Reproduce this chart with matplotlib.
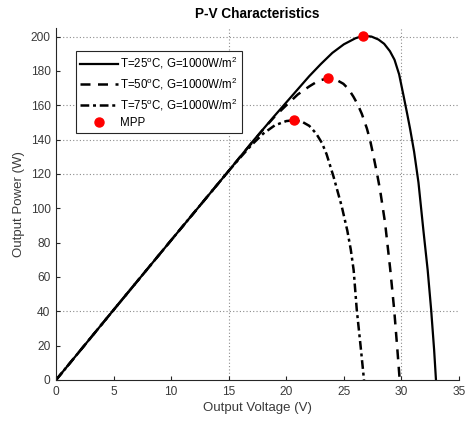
import matplotlib
matplotlib.use("Agg")
import matplotlib.pyplot as plt

plt.rcParams['font.family'] = ['Liberation Sans', 'DejaVu Sans']
plt.rcParams['mathtext.fontset'] = 'custom'
plt.rcParams['mathtext.rm'] = 'Liberation Sans'
plt.rcParams['mathtext.it'] = 'Liberation Sans'

# ---- data ----
v25 = [0, 5, 10, 15, 17, 19, 20.5, 22, 23, 24, 25, 26, 26.7, 27.4, 28, 28.5, 29,
       29.4, 29.8, 30.17, 30.5, 30.76, 31.1, 31.48, 31.91, 32.28, 32.58, 32.84, 33.0]
p25 = [0, 40.8, 81.4, 121.8, 138.3, 154, 165.5, 177, 184, 190.5, 195.5, 199, 200.5,
       200, 198.3, 195.8, 191.5, 186.5, 178, 166, 155, 146, 133, 115, 87, 64, 41, 17.5, 0]

v50 = [0, 5, 10, 15, 16, 17, 18, 19, 20, 21, 22, 22.8, 23.66, 24.3, 24.96, 25.4,
       25.83, 26.2, 26.56, 27.0, 27.3, 27.57, 27.9, 28.15, 28.58, 29.02, 29.37, 29.65, 29.85]
p50 = [0, 40.8, 81.4, 121.8, 130, 138, 146, 153.5, 160, 166.3, 171, 174.3, 175.8, 175,
       172.5, 169.5, 165, 160.5, 155, 146.5, 139, 130.5, 119.5, 110.5, 91.5, 65, 41, 17.5, 0]

v75 = [0, 5, 10, 15, 16, 17, 18, 19, 20, 20.7, 21.4, 22, 22.6, 23.1, 23.5, 24.1,
       24.82, 25.3, 25.6, 25.85, 26.12, 26.45, 26.75]
p75 = [0, 40.8, 81.4, 121.8, 129.5, 137, 143.5, 148.3, 150.8, 151.3, 150.3, 148, 143.5,
       138, 131.5, 118.5, 101, 87, 76, 64, 41, 20, 0]

mpp_v = [26.7, 23.66, 20.7]
mpp_p = [200.5, 175.8, 151.3]

labels = [r'T=25$^o$C, G=1000W/m$^2$',
          r'T=50$^o$C, G=1000W/m$^2$',
          r'T=75$^o$C, G=1000W/m$^2$',
          'MPP']
xticks = [0, 5, 10, 15, 20, 25, 30, 35]
yticks = [0, 20, 40, 60, 80, 100, 120, 140, 160, 180, 200]
grid_x = [15, 30]
grid_y = [40, 120, 140, 160, 200]

fig = plt.figure(figsize=(4.66, 4.30), dpi=100)
ax = fig.add_axes([56/466, 50/430, 403/466, 352/430])

for gx in grid_x:
    ax.axvline(gx, color='#8c8c8c', linestyle=(0, (1, 2)), linewidth=0.8, zorder=0)
for gy in grid_y:
    ax.axhline(gy, color='#8c8c8c', linestyle=(0, (1, 2)), linewidth=0.8, zorder=0)

ax.plot(v25, p25, color='black', linestyle='-', linewidth=1.6, label=labels[0])
ax.plot(v50, p50, color='black', linestyle=(0, (4, 3)), linewidth=1.8, label=labels[1])
ax.plot(v75, p75, color='black', linestyle=(0, (3.5, 1.5, 1.2, 1.5)), linewidth=1.8, label=labels[2])
ax.plot(mpp_v, mpp_p, linestyle='none', marker='o', markersize=6.5, color='red',
        markeredgecolor='red', label=labels[3], zorder=5)

ax.set_xlim(0, 35)
ax.set_ylim(0, 205)
ax.set_xticks(xticks)
ax.set_yticks(yticks)
ax.spines['top'].set_visible(False)
ax.spines['right'].set_visible(False)
for s in ['left', 'bottom']:
    ax.spines[s].set_color('#262626')
    ax.spines[s].set_linewidth(0.8)
ax.tick_params(direction='in', length=3, width=0.8, colors='#262626',
               labelsize=8.6, labelcolor='#3a3a3a', pad=4)

ax.set_title('P-V Characteristics', fontsize=9.8, fontweight='bold', pad=7)
ax.set_xlabel('Output Voltage (V)', fontsize=9.5, color='#3a3a3a', labelpad=3)
ax.set_ylabel('Output Power (W)', fontsize=9.5, color='#3a3a3a', labelpad=4)

leg = ax.legend(loc='upper left', bbox_to_anchor=(0.0496, 0.9347), borderaxespad=0,
                fontsize=8.3, handlelength=3.3, handletextpad=0.2, numpoints=1,
                fancybox=False, framealpha=1, edgecolor='#262626', labelspacing=0.4,
                borderpad=0.35)
leg.get_frame().set_linewidth(0.8)

fig.savefig('out.png', dpi=100)
